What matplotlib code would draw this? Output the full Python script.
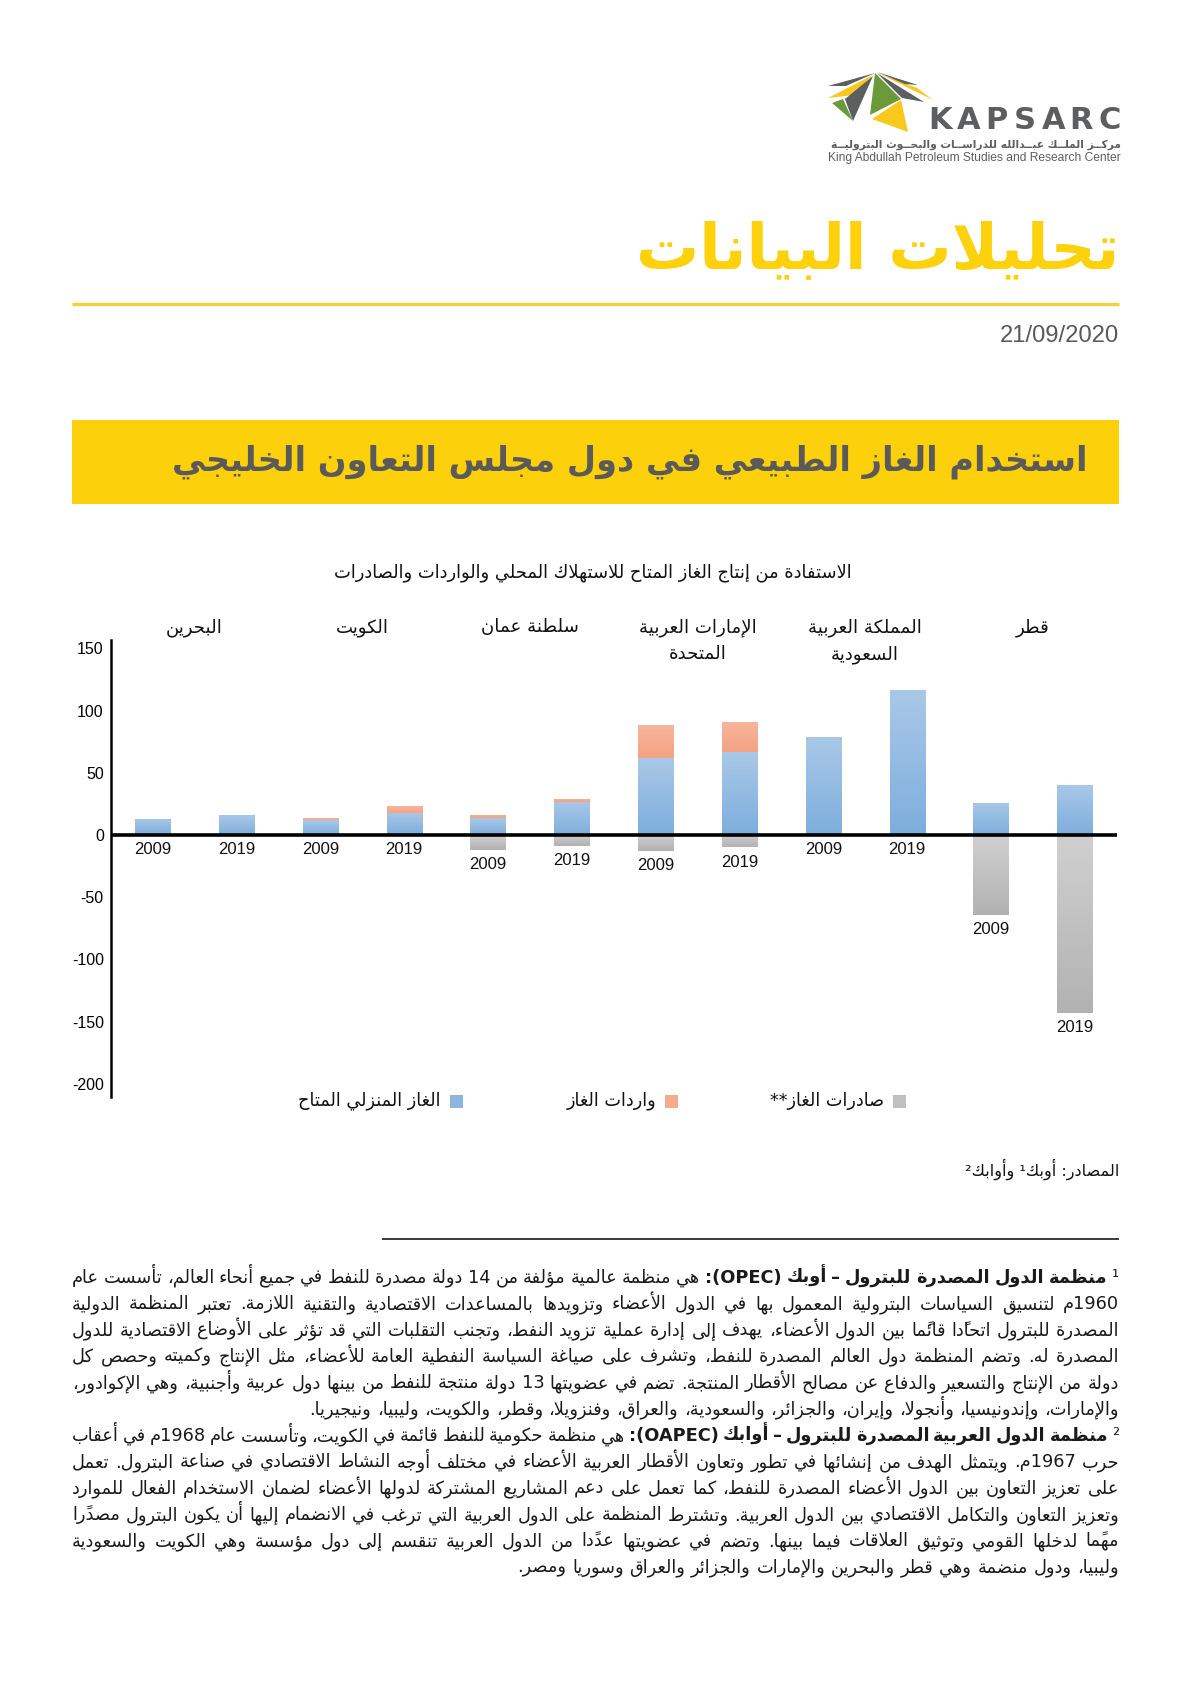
import matplotlib
matplotlib.use('Agg')
import matplotlib.pyplot as plt
import numpy as np
from matplotlib.patches import Rectangle, Polygon
from matplotlib.colors import LinearSegmentedColormap
import matplotlib.transforms as mtransforms

# ---------------------------------------------------------------- data
countries = ['البحرين', 'الكويت', 'سلطنة عمان', 'الإمارات العربية\nالمتحدة',
             'المملكة العربية\nالسعودية', 'قطر']
years = ['2009', '2019'] * 6
domestic = [13, 16, 12, 18, 13.5, 26.5, 61.5, 67, 78.5, 116.5, 26, 40]
imports = [0, 0, 1.5, 5.5, 2.5, 2.5, 27, 24, 0, 0, 0, 0]
exports = [0, 0, 0, 0, -12, -9, -13, -10, 0, 0, -64, -143]
yticks = [150, 100, 50, 0, -50, -100, -150, -200]
legend_labels = ['الغاز المنزلي المتاح', 'واردات الغاز', 'صادرات الغاز**']

page_title = 'تحليلات البيانات'
date_text = '21/09/2020'
box_title = 'استخدام الغاز الطبيعي في دول مجلس التعاون الخليجي'
chart_title = 'الاستفادة من إنتاج الغاز المتاح للاستهلاك المحلي والواردات والصادرات'
sources = 'المصادر: أوبك¹ وأوابك²'
logo_ar = 'مركــز الملــك عبــدالله للدراســات والبحــوث البتروليــة'
logo_en = 'King Abdullah Petroleum Studies and Research Center'

footnote_lines = [
    ('¹ منظمة الدول المصدرة للبترول – أوبك (OPEC):',
     'هي منظمة عالمية مؤلفة من 14 دولة مصدرة للنفط في جميع أنحاء العالم، تأسست عام'),
    ('', '1960م لتنسيق السياسات البترولية المعمول بها في الدول الأعضاء وتزويدها بالمساعدات الاقتصادية والتقنية اللازمة. تعتبر المنظمة الدولية'),
    ('', 'المصدرة للبترول اتحادًا قائمًا بين الدول الأعضاء، يهدف إلى إدارة عملية تزويد النفط، وتجنب التقلبات التي قد تؤثر على الأوضاع الاقتصادية للدول'),
    ('', 'المصدرة له. وتضم المنظمة دول العالم المصدرة للنفط، وتشرف على صياغة السياسة النفطية العامة للأعضاء، مثل الإنتاج وكميته وحصص كل'),
    ('', 'دولة من الإنتاج والتسعير والدفاع عن مصالح الأقطار المنتجة. تضم في عضويتها 13 دولة منتجة للنفط من بينها دول عربية وأجنبية، وهي الإكوادور،'),
    ('', 'والإمارات، وإندونيسيا، وأنجولا، وإيران، والجزائر، والسعودية، والعراق، وفنزويلا، وقطر، والكويت، وليبيا، ونيجيريا.'),
    ('² منظمة الدول العربية المصدرة للبترول – أوابك (OAPEC):',
     'هي منظمة حكومية للنفط قائمة في الكويت، وتأسست عام 1968م في أعقاب'),
    ('', 'حرب 1967م. ويتمثل الهدف من إنشائها في تطور وتعاون الأقطار العربية الأعضاء في مختلف أوجه النشاط الاقتصادي في صناعة البترول. تعمل'),
    ('', 'على تعزيز التعاون بين الدول الأعضاء المصدرة للنفط، كما تعمل على دعم المشاريع المشتركة لدولها الأعضاء لضمان الاستخدام الفعال للموارد'),
    ('', 'وتعزيز التعاون والتكامل الاقتصادي بين الدول العربية. وتشترط المنظمة على الدول العربية التي ترغب في الانضمام إليها أن يكون البترول مصدرًا'),
    ('', 'مهمًا لدخلها القومي وتوثيق العلاقات فيما بينها. وتضم في عضويتها عددًا من الدول العربية تنقسم إلى دول مؤسسة وهي الكويت والسعودية'),
    ('', 'وليبيا، ودول منضمة وهي قطر والبحرين والإمارات والجزائر والعراق وسوريا ومصر.'),
]
last_lines = {5, 11}

# ---------------------------------------------------------------- arabic shaping
_FORMS = {}
_TABLE = [(0x621, 0xFE80, 1), (0x622, 0xFE81, 2), (0x623, 0xFE83, 2), (0x624, 0xFE85, 2),
          (0x625, 0xFE87, 2), (0x626, 0xFE89, 4), (0x627, 0xFE8D, 2), (0x628, 0xFE8F, 4),
          (0x629, 0xFE93, 2), (0x62A, 0xFE95, 4), (0x62B, 0xFE99, 4), (0x62C, 0xFE9D, 4),
          (0x62D, 0xFEA1, 4), (0x62E, 0xFEA5, 4), (0x62F, 0xFEA9, 2), (0x630, 0xFEAB, 2),
          (0x631, 0xFEAD, 2), (0x632, 0xFEAF, 2), (0x633, 0xFEB1, 4), (0x634, 0xFEB5, 4),
          (0x635, 0xFEB9, 4), (0x636, 0xFEBD, 4), (0x637, 0xFEC1, 4), (0x638, 0xFEC5, 4),
          (0x639, 0xFEC9, 4), (0x63A, 0xFECD, 4), (0x641, 0xFED1, 4), (0x642, 0xFED5, 4),
          (0x643, 0xFED9, 4), (0x644, 0xFEDD, 4), (0x645, 0xFEE1, 4), (0x646, 0xFEE5, 4),
          (0x647, 0xFEE9, 4), (0x648, 0xFEED, 2), (0x649, 0xFEEF, 2), (0x64A, 0xFEF1, 4)]
for cp, base, n in _TABLE:
    if n == 1:
        _FORMS[chr(cp)] = (chr(base), None, None, None)
    elif n == 2:
        _FORMS[chr(cp)] = (chr(base), chr(base + 1), None, None)
    else:
        _FORMS[chr(cp)] = tuple(chr(base + k) for k in range(4))
_FORMS['\u0640'] = ('\u0640',) * 4
_LAM_ALEF = {'\u0622': ('\uFEF5', '\uFEF6'), '\u0623': ('\uFEF7', '\uFEF8'),
             '\u0625': ('\uFEF9', '\uFEFA'), '\u0627': ('\uFEFB', '\uFEFC')}


def _is_mark(c):
    o = ord(c)
    return 0x610 <= o <= 0x61A or 0x64B <= o <= 0x65F or o == 0x670


def _shape(s):
    toks = []
    i = 0
    while i < len(s):
        c = s[i]
        if c == '\u0644':
            j = i + 1
            marks = []
            while j < len(s) and _is_mark(s[j]):
                marks.append(s[j]); j += 1
            if j < len(s) and s[j] in _LAM_ALEF:
                toks.append(['LA', s[j]])
                toks += [['M', m] for m in marks]
                i = j + 1
                continue
        if c in _FORMS:
            toks.append(['A', c])
        elif _is_mark(c):
            toks.append(['M', c])
        else:
            toks.append(['O', c])
        i += 1

    def jn_next(t):
        return t[0] == 'A' and _FORMS[t[1]][2] is not None

    def jn_prev(t):
        return t[0] == 'LA' or (t[0] == 'A' and t[1] != '\u0621')

    out = []
    for k, t in enumerate(toks):
        if t[0] not in ('A', 'LA'):
            out.append(t[1]); continue
        p = k - 1
        while p >= 0 and toks[p][0] == 'M':
            p -= 1
        q = k + 1
        while q < len(toks) and toks[q][0] == 'M':
            q += 1
        jp = p >= 0 and toks[p][0] in ('A', 'LA') and jn_next(toks[p]) and jn_prev(t)
        jq = q < len(toks) and toks[q][0] in ('A', 'LA') and jn_next(t) and jn_prev(toks[q])
        if t[0] == 'LA':
            out.append(_LAM_ALEF[t[1]][1 if jp else 0]); continue
        f = _FORMS[t[1]]
        if jp and jq:
            out.append(f[3])
        elif jp:
            out.append(f[1])
        elif jq:
            out.append(f[2])
        else:
            out.append(f[0])
    return ''.join(out)


_MIRROR = {'(': ')', ')': '(', '[': ']', ']': '[', '{': '}', '}': '{', '<': '>', '>': '<'}


def _cls(c):
    o = ord(c)
    if 0x600 <= o <= 0x6FF or 0xFB50 <= o <= 0xFDFF or 0xFE70 <= o <= 0xFEFF:
        return 'R'
    if c.isalnum():
        return 'L'
    return 'N'


def _visual(s):
    if not s:
        return s
    cl = [_cls(c) for c in s]
    n = len(s)
    res = cl[:]
    i = 0
    while i < n:
        if cl[i] == 'N':
            j = i
            while j < n and cl[j] == 'N':
                j += 1
            prev = cl[i - 1] if i > 0 else 'R'
            nxt = cl[j] if j < n else 'R'
            d = 'L' if (prev == 'L' and nxt == 'L') else 'R'
            for k in range(i, j):
                res[k] = d
            i = j
        else:
            i += 1
    runs = []
    for c, d in zip(s, res):
        if runs and runs[-1][0] == d:
            runs[-1][1].append(c)
        else:
            runs.append([d, [c]])
    out = []
    for d, chars in reversed(runs):
        if d == 'L':
            out.append(''.join(chars))
        else:
            clusters = []
            for c in chars:
                if _is_mark(c) and clusters:
                    clusters[-1] += c
                else:
                    clusters.append(c)
            out.append(''.join(_MIRROR.get(c, c) for c in reversed(clusters)))
    return ''.join(out)


def ar(s):
    return '\n'.join(_visual(_shape(line)) for line in s.split('\n'))


# ---------------------------------------------------------------- figure
W, H = 1191, 1684
plt.rcParams['font.family'] = ['DejaVu Sans']
plt.rcParams['axes.unicode_minus'] = False
NUM = ['Liberation Sans', 'DejaVu Sans']

fig = plt.figure(figsize=(W / 100, H / 100), dpi=100, facecolor='white')
renderer = fig.canvas.get_renderer()

pg = fig.add_axes([0, 0, 1, 1])
pg.set_xlim(0, W)
pg.set_ylim(H, 0)
pg.axis('off')


def measure(txt, size, weight='normal', family=None):
    kw = dict(fontsize=size, fontweight=weight)
    if family:
        kw['family'] = family
    t = pg.text(0, 0, txt, **kw)
    w = t.get_window_extent(renderer).width
    t.remove()
    return w


def fit(txt, width, weight='normal', family=None, base=20.0):
    return base * width / measure(txt, base, weight, family)


# ---------------------------------------------------------------- logo
GREY = '#5d5e60'
YEL = '#f8c81c'
GRN = '#6c9a3a'
logo_polys = [
    ([(875, 73), (828, 86), (846, 86)], GREY),
    ([(873, 75), (828, 98), (854, 95)], YEL),
    ([(873, 76), (845, 99), (853, 121)], GREY),
    ([(832, 103), (853, 121), (843, 99)], GRN),
    ([(875, 73), (870, 115), (901, 99)], GRN),
    ([(872, 119), (901, 100), (908, 132)], YEL),
    ([(877, 73), (902, 98), (924, 102)], GREY),
    ([(878, 73), (933, 100), (917, 88)], YEL),
    ([(877, 72), (918, 85), (905, 84)], GREY),
]
for pts, col in logo_polys:
    pg.add_patch(Polygon(pts, closed=True, facecolor=col, edgecolor='none'))
for i, ch in enumerate('KAPSARC'):
    pg.text(940 + 28.3 * i, 129, ch, ha='center', va='baseline', fontsize=22,
            fontweight='bold', color=GREY, family=['DejaVu Sans'])
s_lar = fit(ar(logo_ar), 291, 'bold')
pg.text(1121, 145, ar(logo_ar), ha='right', va='center', fontsize=s_lar,
        fontweight='bold', color=GREY)
s_len = fit(logo_en, 291, family=NUM)
pg.text(1121, 158, logo_en, ha='right', va='center', fontsize=s_len,
        color=GREY, family=NUM)

# ---------------------------------------------------------------- header
s_t = fit(ar(page_title), 484, 'bold')
pg.text(1119, 252, ar(page_title), ha='right', va='center', fontsize=s_t,
        fontweight='bold', color='#FDD10B')
pg.plot([72, 1119], [304, 304], color='#F4D03F', lw=2.4, solid_capstyle='butt')
s_d = fit(date_text, 119, family=NUM)
pg.text(1119, 336, date_text, ha='right', va='center', fontsize=s_d,
        color='#58595B', family=NUM)
pg.add_patch(Rectangle((72, 420), 1047, 84, facecolor='#FDD00C', edgecolor='none'))
s_b = fit(ar(box_title), 914, 'bold')
pg.text(1088, 462, ar(box_title), ha='right', va='center', fontsize=s_b,
        fontweight='bold', color='#5A5A5A')

# ---------------------------------------------------------------- chart
s_ct = fit(ar(chart_title), 520)
pg.text(593, 573, ar(chart_title), ha='center', va='center', fontsize=s_ct, color='#111111')

ax = fig.add_axes([110.7 / W, 1 - 1097 / H, 1006 / W, (1097 - 640) / H])
ax.set_facecolor('none')
x = np.arange(len(years))
bw = 0.42
b_dom = ax.bar(x, domestic, bw, color='#93b9e1', zorder=2, linewidth=0)
b_imp = ax.bar(x, imports, bw, bottom=domestic, color='#f5ab8e', zorder=2, linewidth=0)
b_exp = ax.bar(x, exports, bw, color='#c2c2c2', zorder=2, linewidth=0)


def gradient(bars, top_col, bot_col):
    cmap = LinearSegmentedColormap.from_list('g', [bot_col, top_col])
    for p in bars:
        h = p.get_height()
        if h == 0:
            continue
        x0, y0, w = p.get_x(), p.get_y(), p.get_width()
        yb, yt = min(y0, y0 + h), max(y0, y0 + h)
        im = ax.imshow(np.linspace(0, 1, 64).reshape(-1, 1), extent=(x0, x0 + w, yb, yt),
                       origin='lower', cmap=cmap, aspect='auto', zorder=2.5,
                       interpolation='bilinear')
        im.set_clip_path(p)


gradient(b_dom, '#a9c8e7', '#7eaedd')
gradient(b_imp, '#f6b59c', '#f4a384')
gradient(b_exp, '#d0d0d0', '#b2b2b2')

ax.set_xlim(-0.5, 11.5)
ax.set_ylim(-210.5, 156.7)
ax.axhline(0, color='black', lw=2.6, zorder=4)
for sp in ('top', 'right', 'bottom'):
    ax.spines[sp].set_visible(False)
ax.spines['left'].set_linewidth(1.8)
ax.spines['left'].set_zorder(5)
ax.set_xticks([])
ax.set_yticks(yticks)
ax.set_yticklabels([str(v) for v in yticks], family=NUM, fontsize=11.5)
ax.tick_params(axis='y', length=0, pad=5)

for xi, yr, ex in zip(x, years, exports):
    ax.annotate(yr, (xi, min(0, ex)), xytext=(0, -10.5), textcoords='offset points',
                ha='center', va='center', fontsize=12, family=NUM, color='#111111')

s_c = fit(ar('سلطنة عمان'), 97)
trans = mtransforms.blended_transform_factory(ax.transData, ax.transAxes)
for k, name in enumerate(countries):
    ax.text(2 * k + 0.5, (1097 - 618) / 457, ar(name), transform=trans, ha='center',
            va='top', fontsize=s_c, multialignment='center', linespacing=1.6,
            color='#111111')

# legend (RTL: square on the right of each label)
leg_cols = ['#8db5df', '#f5ab8e', '#c0c0c0']
leg_sq_x = [456, 671, 899]
s_l = fit(ar(legend_labels[0]), 142)
for lab, col, sx in zip(legend_labels, leg_cols, leg_sq_x):
    pg.add_patch(Rectangle((sx - 6.5, 1101 - 6.5), 13, 13, facecolor=col, edgecolor='none'))
    pg.text(sx - 15, 1101, ar(lab), ha='right', va='center', fontsize=s_l, color='#111111')

# ---------------------------------------------------------------- sources
s_s = fit(ar(sources), 154)
pg.text(1119, 1169, ar(sources), ha='right', va='center', fontsize=s_s, color='#111111')
pg.plot([382, 1119], [1239, 1239], color='#3a3a3a', lw=1.4, solid_capstyle='butt')

# ---------------------------------------------------------------- footnotes (justified)
XR, XL = 1119, 72
LW = XR - XL
fn_words = []
for bold_part, reg_part in footnote_lines:
    ws = []
    for w in bold_part.split():
        ws.append((ar(w), 'normal' if w in ('¹', '²') else 'bold'))
    for w in reg_part.split():
        ws.append((ar(w), 'normal'))
    fn_words.append(ws)

base = 10.0
gmin = 4.0
fs = 13.0
for k, ws in enumerate(fn_words):
    if k in last_lines:
        continue
    tot = sum(measure(t, base, wt) for t, wt in ws)
    fs = min(fs, base * (LW - (len(ws) - 1) * gmin) / tot)

fpx = fs * 100 / 72
for k, ws in enumerate(fn_words):
    yb = 1277 + 26.35 * k + 0.33 * fpx
    widths = [measure(t, fs, wt) for t, wt in ws]
    if k in last_lines:
        gap = fpx * 0.32
    else:
        gap = (LW - sum(widths)) / (len(ws) - 1)
    xr = XR
    for (t, wt), wdt in zip(ws, widths):
        pg.text(xr, yb, t, ha='right', va='baseline', fontsize=fs, fontweight=wt,
                color='#1a1a1a')
        xr -= wdt + gap

fig.savefig('out.png', dpi=100, facecolor='white')
